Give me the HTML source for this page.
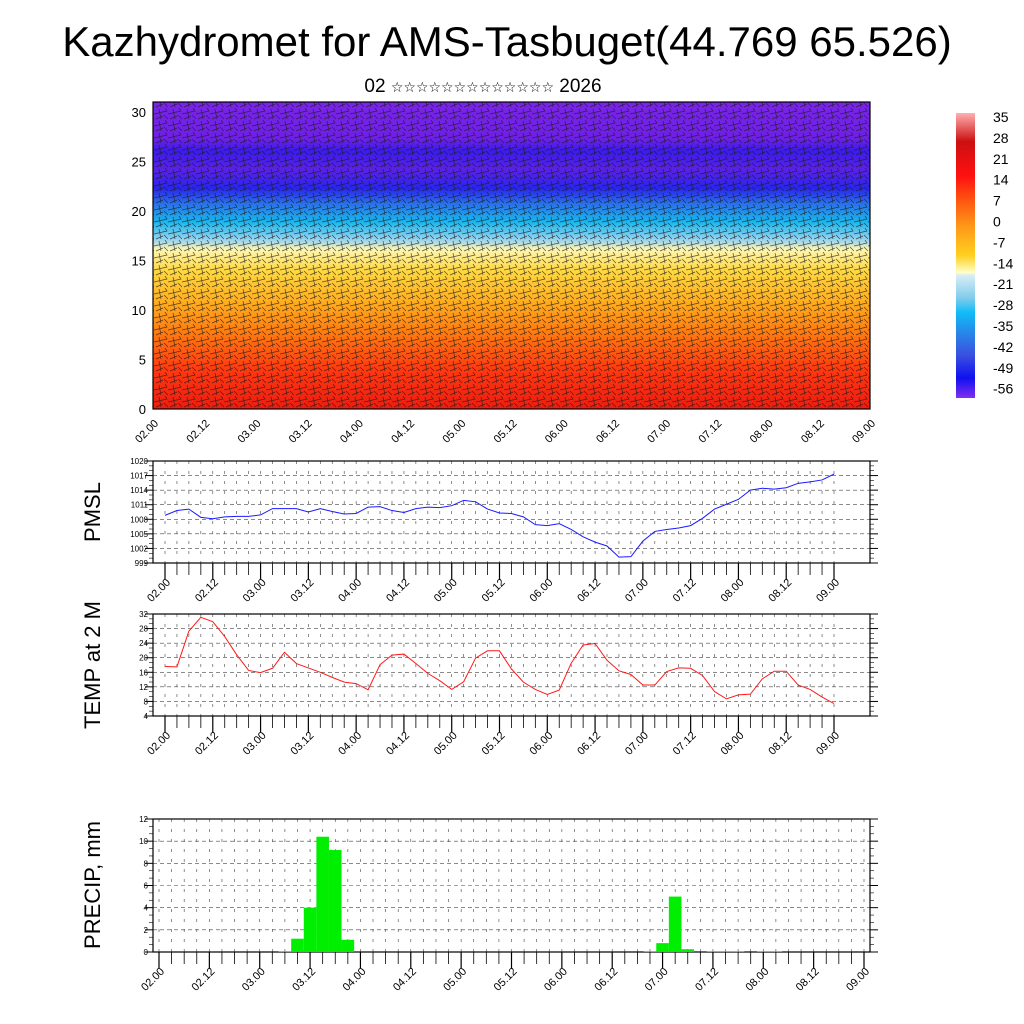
<!DOCTYPE html>
<html><head><meta charset="utf-8"><style>
body{margin:0;background:#fff;}
svg{display:block;font-family:"Liberation Sans","DejaVu Sans",sans-serif;}
</style></head><body>
<svg id="s" width="1024" height="1024" viewBox="0 0 1024 1024" xmlns="http://www.w3.org/2000/svg">
<defs>
<linearGradient id="tg" x1="0" y1="0" x2="0" y2="1">
<stop offset="0" stop-color="#7a24e8"/><stop offset="0.12" stop-color="#6e20e6"/>
<stop offset="0.16" stop-color="#3a1ce8"/><stop offset="0.22" stop-color="#5a22e6"/>
<stop offset="0.28" stop-color="#2a24ec"/><stop offset="0.33" stop-color="#2a70e8"/>
<stop offset="0.39" stop-color="#18b6ee"/><stop offset="0.45" stop-color="#9ad4f0"/>
<stop offset="0.48" stop-color="#fff6b0"/><stop offset="0.55" stop-color="#ffd840"/>
<stop offset="0.65" stop-color="#ffae20"/><stop offset="0.75" stop-color="#ff7c10"/>
<stop offset="0.87" stop-color="#ff3a10"/><stop offset="1" stop-color="#ee1c10"/>
</linearGradient>
<linearGradient id="cb" x1="0" y1="0" x2="0" y2="1">
<stop offset="0" stop-color="#ffb0b0"/><stop offset="0.1" stop-color="#cc1010"/>
<stop offset="0.22" stop-color="#ff1010"/><stop offset="0.3" stop-color="#ff5010"/>
<stop offset="0.4" stop-color="#ff9a18"/><stop offset="0.5" stop-color="#ffd020"/>
<stop offset="0.56" stop-color="#ffffc8"/><stop offset="0.57" stop-color="#d8ecf8"/>
<stop offset="0.65" stop-color="#80cceb"/><stop offset="0.7" stop-color="#10bcf8"/>
<stop offset="0.78" stop-color="#2a80e8"/><stop offset="0.85" stop-color="#3a50e0"/>
<stop offset="0.93" stop-color="#1010f0"/><stop offset="1" stop-color="#8030f0"/>
</linearGradient>
<pattern id="barbs" width="14" height="12" patternUnits="userSpaceOnUse">
<path d="M0 6 L13 3 L11 0 M2 11 L9 8 M5 1 L7 11 M10 7 L14 11" stroke="#1a1a1a" stroke-width="0.7" fill="none" opacity="0.75"/>
</pattern>
</defs>
<text x="507" y="56" text-anchor="middle" font-size="42">Kazhydromet for AMS-Tasbuget(44.769 65.526)</text>
<text x="483" y="92" text-anchor="middle" font-size="19">02 <tspan font-size="14">☆☆☆☆☆☆☆☆☆☆☆☆☆</tspan> 2026</text>
<g id="top">
<rect x="153" y="102" width="717" height="307" fill="url(#tg)"/>
<rect x="153" y="102" width="717" height="307" fill="url(#barbs)"/>
<rect x="153" y="102" width="717" height="307" fill="none" stroke="#000" stroke-width="1.2"/>
</g>
<rect x="956" y="113" width="19" height="285" fill="url(#cb)"/>
<g id="g"></g>
</svg>
<script>
const xLabels=["02.00","02.12","03.00","03.12","04.00","04.12","05.00","05.12","06.00","06.12","07.00","07.12","08.00","08.12","09.00"];
const cbLabels=["35","28","21","14","7","0","-7","-14","-21","-28","-35","-42","-49","-56"];
const hTicks=[0,5,10,15,20,25,30];
const pmsl=[1008.8,1009.8,1010.1,1008.4,1008.1,1008.5,1008.6,1008.6,1008.9,1010.2,1010.2,1010.2,1009.5,1010.2,1009.6,1009.1,1009.2,1010.5,1010.6,1009.8,1009.4,1010.2,1010.5,1010.4,1010.8,1011.9,1011.6,1010.1,1009.3,1009.2,1008.5,1006.9,1006.7,1007.1,1005.9,1004.4,1003.3,1002.5,1000.2,1000.3,1003.5,1005.5,1005.9,1006.2,1006.7,1008.2,1010.1,1011.1,1012.1,1014.0,1014.4,1014.2,1014.5,1015.4,1015.7,1016.1,1017.3];
const temp=[17.6,17.5,27.3,31.1,29.9,25.8,20.8,16.5,15.9,17.1,21.5,18.4,17.2,16.0,14.6,13.3,12.9,11.2,18.1,20.7,21.0,18.4,15.7,13.7,11.3,13.4,19.9,21.9,21.9,16.9,13.3,11.3,9.9,11.1,18.5,23.5,23.9,19.3,16.4,15.4,12.5,12.5,16.2,17.2,17.1,15.1,10.7,8.7,9.8,10.0,14.2,16.3,16.3,12.5,11.3,9.2,7.4];
const precip=[0,0,0,0,0,0,0,0,0,0,0.05,1.2,4.0,10.4,9.2,1.1,0,0,0,0,0,0,0,0,0,0,0,0,0,0,0,0,0,0,0,0,0,0,0,0.05,0.8,5.0,0.25,0,0.05,0.05,0.05,0,0.05,0.05,0,0,0,0,0,0,0];
const NS="http://www.w3.org/2000/svg";
const G=document.getElementById('g');
function mk(t,a,p){const e=document.createElementNS(NS,t);for(const k in a)e.setAttribute(k,a[k]);(p||G).appendChild(e);return e;}
const topY=v=>409-(v/31)*307;
const topX=i=>153+i*(717/56);
hTicks.forEach(v=>{const t=mk('text',{x:146,y:topY(v)+5,'text-anchor':'end','font-size':13});t.textContent=v;

});
xLabels.forEach((l,k)=>{const x=topX(k*4);const t=mk('text',{x:x+6,y:424,'text-anchor':'end','font-size':11,transform:`rotate(-45 ${x+6} 424)`});t.textContent=l;

});
cbLabels.forEach((l,k)=>{const t=mk('text',{x:993,y:122+k*20.9,'font-size':14});t.textContent=l;

});
function panel(name,top,bot,x0,x1,lo,hi,ticks,tx0,tx1,tickFs,title,titleY){
  const g=mk('g',{});
  
  
  const yS=v=>bot-(v-lo)/(hi-lo)*(bot-top);
  const xS=i=>tx0+i*(tx1-tx0)/56;
  for(let i=0;i<=56;i++){const x=xS(i);
    mk('line',{x1:x,x2:x,y1:top,y2:bot,stroke:'#444','stroke-width':0.6,'stroke-dasharray':'3,7'},g);
    mk('line',{x1:x,x2:x,y1:bot,y2:bot+(i%4==0?16:12),stroke:'#000','stroke-width':i%4==0?1.2:0.8},g);}
  ticks.forEach(v=>{const y=yS(v);
    mk('line',{x1:x0,x2:x1,y1:y,y2:y,stroke:'#444','stroke-width':0.6,'stroke-dasharray':'4,3'},g);
    mk('line',{x1:x0-8,x2:x0,y1:y,y2:y,stroke:'#000','stroke-width':1},g);
    mk('line',{x1:x1,x2:x1+8,y1:y,y2:y,stroke:'#000','stroke-width':1},g);
    const t=mk('text',{x:x0-5,y:y+3,'text-anchor':'end','font-size':tickFs},g);t.textContent=v;
    
    });
  for(let k=0;k<ticks.length-1;k++)for(let m=1;m<3;m++){const y=yS(ticks[k]+(ticks[k+1]-ticks[k])*m/3);
    mk('line',{x1:x0-4,x2:x0,y1:y,y2:y,stroke:'#000','stroke-width':0.6},g);mk('line',{x1:x1,x2:x1+4,y1:y,y2:y,stroke:'#000','stroke-width':0.6},g);}
  mk('rect',{x:x0,y:top,width:x1-x0,height:bot-top,fill:'none',stroke:'#000','stroke-width':1.2},g);
  xLabels.forEach((l,k)=>{const x=xS(k*4)+6,y=bot+20;const t=mk('text',{x:x,y:y,'text-anchor':'end','font-size':11,transform:`rotate(-45 ${x} ${y})`},g);t.textContent=l;
    
    });
  const tt=mk('text',{x:100,y:titleY,'text-anchor':'middle','font-size':22,transform:`rotate(-90 100 ${titleY})`},g);tt.textContent=title;
  
  
  return {g,xS,yS};
}
let p=panel('pmsl-panel',461,563,153,870,999,1020,[999,1002,1005,1008,1011,1014,1017,1020],165,834,8,'PMSL',512);
let pl=mk('polyline',{points:pmsl.map((v,i)=>p.xS(i)+','+p.yS(v)).join(' '),fill:'none',stroke:'#1a1aff','stroke-width':1},p.g);


p=panel('temp-panel',614,716,153,870,4,32,[4,8,12,16,20,24,28,32],165,834,8,'TEMP at 2 M',665);
pl=mk('polyline',{points:temp.map((v,i)=>p.xS(i)+','+p.yS(v)).join(' '),fill:'none',stroke:'#ff1a1a','stroke-width':1},p.g);


p=panel('precip-panel',819,952,153,870,0,12,[0,2,4,6,8,10,12],159,864,8,'PRECIP, mm',885);
const bw=(864-159)/56;
precip.forEach((v,i)=>{if(v<=0)return;const y=p.yS(v);const r=mk('rect',{x:p.xS(i)-bw/2,y:y,width:bw,height:952-y,fill:'#00ee00'},p.g);
  
  });
</script>
</body></html>
